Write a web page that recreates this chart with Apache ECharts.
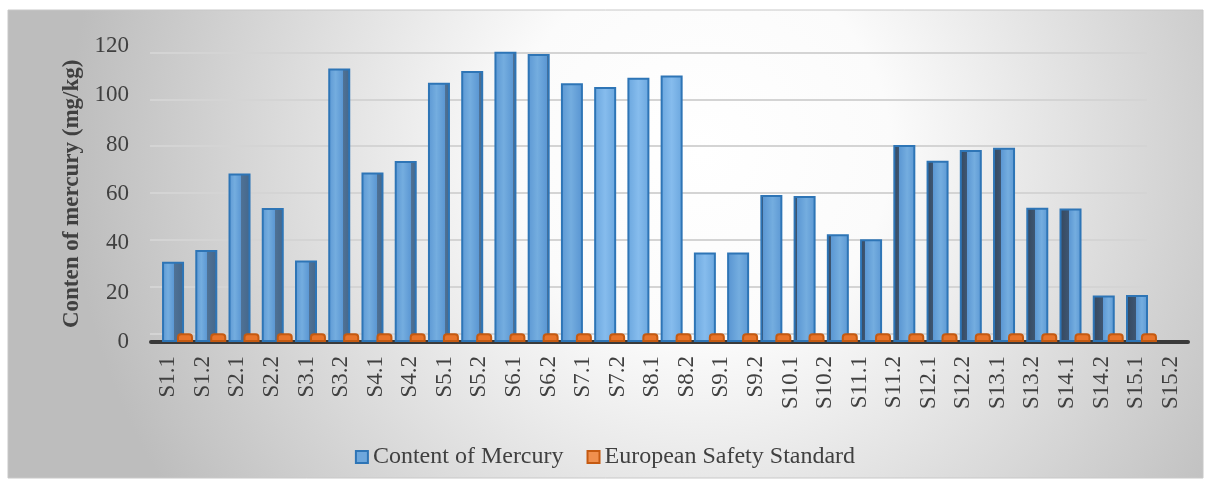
<!DOCTYPE html>
<html>
<head>
<meta charset="utf-8">
<script src="https://cdn.jsdelivr.net/npm/echarts@6/dist/echarts.min.js"></script>
<style>
html,body{margin:0;padding:0;background:#ffffff;}
#chart{width:1210px;height:484px;}
</style>
</head>
<body>
<div id="chart"></div>
<script>
const categories = ['S1.1','S1.2','S2.1','S2.2','S3.1','S3.2','S4.1','S4.2','S5.1','S5.2',
  'S6.1','S6.2','S7.1','S7.2','S8.1','S8.2','S9.1','S9.2','S10.1','S10.2',
  'S11.1','S11.2','S12.1','S12.2','S13.1','S13.2','S14.1','S14.2','S15.1','S15.2'];
const mercury = [32.5, 37.3, 68.2, 54.3, 33.0, 110.8, 68.6, 73.3, 105.0, 109.8,
  117.6, 116.6, 104.8, 103.3, 107.0, 107.9, 36.2, 36.2, 59.5, 59.1,
  43.6, 41.6, 79.8, 73.4, 77.8, 78.7, 54.4, 54.1, 18.8, 19.0];
const euStandard = [3.5, 3.5, 3.5, 3.5, 3.5, 3.5, 3.5, 3.5, 3.5, 3.5,
  3.5, 3.5, 3.5, 3.5, 3.5, 3.5, 3.5, 3.5, 3.5, 3.5,
  3.5, 3.5, 3.5, 3.5, 3.5, 3.5, 3.5, 3.5, 3.5, 3.5];
const yTicks = [0, 20, 40, 60, 80, 100, 120];
const seriesNames = ['Content of Mercury', 'European Safety Standard'];
const yAxisTitle = 'Conten of mercury (mg/kg)';

const chart = echarts.init(document.getElementById('chart'));
const serif = '"Liberation Serif", "DejaVu Serif", serif';

function blueFill(i) {
  const n = categories.length;
  const t = (i - (n - 1) / 2) / ((n - 1) / 2);
  const side = Math.min(0.45, Math.abs(t) * 0.5);
  const front0 = '#5b97d3', front1 = '#74addf';
  if (side < 0.08) {
    return new echarts.graphic.LinearGradient(0, 0, 1, 0, [
      {offset: 0, color: '#6aa6de'}, {offset: 0.5, color: '#86bced'}, {offset: 1, color: '#6aa6de'}
    ]);
  }
  if (t < 0) {
    return new echarts.graphic.LinearGradient(0, 0, 1, 0, [
      {offset: 0, color: front0}, {offset: (1 - side) * 0.5, color: front1},
      {offset: 1 - side, color: front0}, {offset: 1 - side, color: '#4f7296'},
      {offset: 1, color: '#44668a'}
    ]);
  }
  return new echarts.graphic.LinearGradient(0, 0, 1, 0, [
    {offset: 0, color: '#36475c'}, {offset: side, color: '#3d5673'},
    {offset: side, color: front0}, {offset: side + (1 - side) * 0.5, color: front1},
    {offset: 1, color: front0}
  ]);
}

const valueScale = {type: 'value', min: 0, max: 120, interval: 20};

const option = {
  backgroundColor: '#ffffff',
  animation: false,
  graphic: [{
    type: 'rect',
    z: -100,
    silent: true,
    shape: {x: 8, y: 10, width: 1195, height: 468},
    style: {
      fill: new echarts.graphic.RadialGradient(0.58, 0.3, 1.35, [
        {offset: 0, color: '#ffffff'},
        {offset: 0.3, color: '#fbfbfb'},
        {offset: 1, color: '#bdbdbd'}
      ]),
      stroke: '#c8c8c8',
      lineWidth: 1
    }
  }],
  grid: [
    {left: 151, right: 22, top: 45.7, bottom: 142},      // axis labels + base line
    {left: 160.9, right: 51.9, top: 45.7, bottom: 142},  // bars (set back in depth)
    {left: 150, right: 63, top: 52.7, bottom: 150.7}     // back-wall gridlines
  ],
  legend: {
    top: 440,
    left: 'center',
    itemWidth: 12,
    itemHeight: 12,
    itemGap: 23,
    icon: 'rect',
    textStyle: {fontFamily: serif, fontSize: 24, color: '#404040'},
    data: [
      {name: seriesNames[0], itemStyle: {color: '#6ea7dc', borderColor: '#2e75b6', borderWidth: 2}},
      {name: seriesNames[1], itemStyle: {color: '#f0904e', borderColor: '#c55a11', borderWidth: 2}}
    ]
  },
  xAxis: [
    {
      gridIndex: 0,
      type: 'category',
      data: categories,
      axisLine: {show: true, lineStyle: {color: '#3a3a3a', width: 4}},
      axisTick: {show: false},
      axisLabel: {rotate: 90, margin: 14, fontFamily: serif, fontSize: 23, color: '#404040', interval: 0}
    },
    {gridIndex: 1, type: 'category', data: categories, show: false},
    {gridIndex: 2, type: 'category', data: categories, show: false}
  ],
  yAxis: [
    Object.assign({}, valueScale, {
      gridIndex: 0,
      name: yAxisTitle,
      nameLocation: 'middle',
      nameRotate: 90,
      nameGap: 67,
      nameTextStyle: {fontFamily: serif, fontSize: 23, fontWeight: 'bold', color: '#404040'},
      axisLine: {show: false},
      axisTick: {show: false},
      axisLabel: {
        fontFamily: serif, fontSize: 23, color: '#404040', margin: 22,
        formatter: function (v) { return yTicks.indexOf(v) >= 0 ? String(v) : ''; }
      },
      splitLine: {show: false}
    }),
    Object.assign({}, valueScale, {gridIndex: 1, show: false}),
    Object.assign({}, valueScale, {
      gridIndex: 2,
      axisLine: {show: false},
      axisTick: {show: false},
      axisLabel: {show: false},
      splitLine: {show: true, lineStyle: {color: '#d4d4d4', width: 2}}
    })
  ],
  series: [
    {
      name: seriesNames[0],
      type: 'bar',
      xAxisIndex: 1,
      yAxisIndex: 1,
      data: mercury,
      barWidth: 22,
      barGap: '-32%',
      itemStyle: {
        color: function (p) { return blueFill(p.dataIndex); },
        borderColor: '#2e75b6',
        borderWidth: 2
      }
    },
    {
      name: seriesNames[1],
      type: 'bar',
      xAxisIndex: 1,
      yAxisIndex: 1,
      data: euStandard,
      barWidth: 16,
      itemStyle: {
        color: '#e8742a',
        borderColor: '#c55a11',
        borderWidth: 2,
        borderRadius: [3, 3, 0, 0]
      }
    }
  ]
};
chart.setOption(option);
</script>
</body>
</html>
